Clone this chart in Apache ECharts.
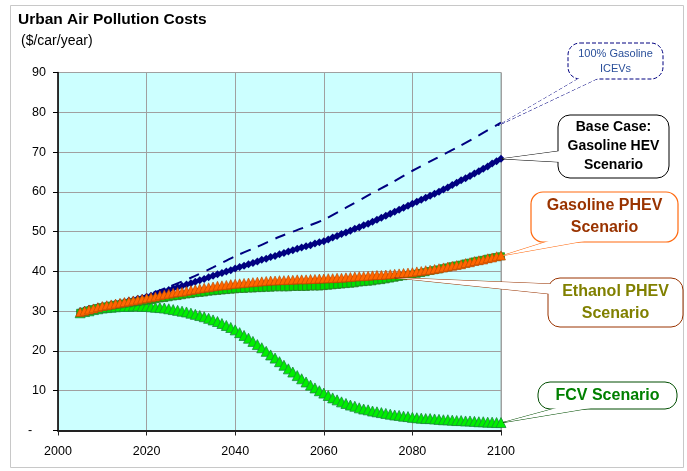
<!DOCTYPE html>
<html>
<head>
<meta charset="utf-8">
<script src="https://cdn.jsdelivr.net/npm/echarts@6/dist/echarts.min.js"></script>
<style>
  html, body { margin: 0; padding: 0; background: #fff; }
  #chart { width: 687px; height: 471px; }
</style>
</head>
<body>
<div id="chart"></div>
<script>
// years with one point each (2005 - 2100)
const years = []
for (let y = 2005; y <= 2100; y++) years.push(y)

// base case: gasoline HEV scenario
const baseHev = [
  30.0, 30.3, 30.6, 30.8, 31.1, 31.3, 31.5, 31.7, 31.9, 32.1,
  32.3, 32.6, 32.8, 33.1, 33.3, 33.6, 33.9, 34.3, 34.6, 35.0,
  35.3, 35.7, 36.0, 36.3, 36.7, 37.0, 37.4, 37.8, 38.1, 38.5,
  38.9, 39.3, 39.6, 40.0, 40.3, 40.7, 41.1, 41.4, 41.8, 42.1,
  42.5, 42.9, 43.2, 43.6, 43.9, 44.3, 44.6, 45.0, 45.3, 45.7,
  46.0, 46.3, 46.6, 47.0, 47.3, 47.6, 48.0, 48.5, 48.9, 49.4,
  49.8, 50.2, 50.7, 51.1, 51.6, 52.0, 52.5, 53.0, 53.5, 54.0,
  54.5, 55.0, 55.5, 56.0, 56.5, 57.0, 57.5, 58.0, 58.5, 59.0,
  59.5, 60.0, 60.6, 61.1, 61.7, 62.3, 62.9, 63.4, 64.0, 64.6,
  65.2, 65.8, 66.4, 67.1, 67.7, 68.3
]

const gasolinePhev = [
  29.8, 30.1, 30.4, 30.7, 31.0, 31.3, 31.5, 31.7, 31.9, 32.1,
  32.3, 32.5, 32.7, 32.9, 33.1, 33.3, 33.5, 33.7, 34.0, 34.2,
  34.4, 34.6, 34.8, 34.9, 35.1, 35.3, 35.5, 35.7, 35.9, 36.0,
  36.2, 36.4, 36.5, 36.6, 36.8, 36.9, 37.0, 37.1, 37.2, 37.3,
  37.4, 37.5, 37.6, 37.7, 37.7, 37.8, 37.8, 37.9, 37.9, 38.0,
  38.0, 38.0, 38.1, 38.1, 38.2, 38.2, 38.3, 38.3, 38.4, 38.4,
  38.5, 38.6, 38.7, 38.8, 38.8, 38.9, 39.0, 39.1, 39.1, 39.2,
  39.3, 39.4, 39.5, 39.6, 39.7, 39.8, 40.0, 40.1, 40.3, 40.4,
  40.6, 40.8, 41.0, 41.2, 41.4, 41.6, 41.8, 42.1, 42.3, 42.6,
  42.8, 43.0, 43.3, 43.5, 43.8, 44.0
]

const ethanolPhev = [
  29.6, 29.9, 30.2, 30.5, 30.8, 31.0, 31.2, 31.4, 31.6, 31.7,
  31.9, 32.0, 32.2, 32.3, 32.5, 32.6, 32.8, 33.0, 33.2, 33.3,
  33.5, 33.7, 33.8, 34.0, 34.2, 34.3, 34.5, 34.6, 34.7, 34.9,
  35.0, 35.1, 35.2, 35.3, 35.4, 35.5, 35.6, 35.6, 35.7, 35.7,
  35.8, 35.8, 35.9, 35.9, 36.0, 36.0, 36.0, 36.0, 36.1, 36.1,
  36.1, 36.1, 36.2, 36.2, 36.2, 36.3, 36.4, 36.5, 36.6, 36.7,
  36.8, 36.9, 37.0, 37.2, 37.3, 37.4, 37.5, 37.7, 37.8, 38.0,
  38.2, 38.4, 38.6, 38.8, 39.0, 39.2, 39.4, 39.6, 39.8, 40.1,
  40.3, 40.5, 40.8, 41.0, 41.3, 41.5, 41.7, 42.0, 42.2, 42.5,
  42.7, 42.9, 43.2, 43.4, 43.6, 43.8
]

const fcv = [
  29.6, 29.9, 30.1, 30.4, 30.6, 30.8, 30.9, 31.0, 31.1, 31.2,
  31.2, 31.2, 31.3, 31.3, 31.2, 31.2, 31.1, 31.0, 30.9, 30.8,
  30.6, 30.4, 30.2, 30.0, 29.8, 29.5, 29.2, 28.9, 28.6, 28.2,
  27.8, 27.4, 26.9, 26.4, 25.9, 25.3, 24.6, 23.9, 23.2, 22.4,
  21.6, 20.8, 19.9, 19.0, 18.2, 17.3, 16.4, 15.5, 14.7, 13.8,
  13.0, 12.2, 11.4, 10.7, 10.0, 9.4, 8.8, 8.2, 7.7, 7.2,
  6.8, 6.4, 6.1, 5.7, 5.4, 5.2, 4.9, 4.7, 4.5, 4.3,
  4.1, 3.9, 3.8, 3.6, 3.5, 3.3, 3.2, 3.1, 3.0, 3.0,
  2.9, 2.8, 2.7, 2.7, 2.6, 2.5, 2.5, 2.4, 2.4, 2.3,
  2.2, 2.2, 2.1, 2.1, 2.0, 2.0
]

// 100% gasoline ICEVs (dashed line, no markers)
const iceYears = [2005, 2010, 2015, 2020, 2025, 2030, 2035, 2040, 2045, 2050,
  2055, 2060, 2065, 2070, 2075, 2080, 2085, 2090, 2095, 2100]
const iceValues = [30.0, 31.3, 32.4, 34.0, 36.1, 38.4, 41.0, 43.8, 46.2, 48.7,
  50.8, 53.0, 56.0, 59.1, 62.1, 65.3, 68.2, 71.1, 74.2, 77.4]

const xTicks = [2000, 2020, 2040, 2060, 2080, 2100]
const yTicks = [0, 10, 20, 30, 40, 50, 60, 70, 80, 90]

const pairs = (xs, vs) => xs.map((x, i) => [x, vs[i]])

const chart = echarts.init(document.getElementById('chart'))

const option = {
  animation: false,
  backgroundColor: '#fff',
  textStyle: { fontFamily: 'Liberation Sans, Arial, sans-serif' },
  title: [
    {
      text: 'Urban Air Pollution Costs',
      left: 13, top: 7,
      textStyle: { fontSize: 15.5, fontWeight: 'bold', color: '#000', fontFamily: 'Liberation Sans' }
    },
    {
      text: '($/car/year)',
      left: 16, top: 29,
      textStyle: { fontSize: 14, fontWeight: 'normal', color: '#000', fontFamily: 'Liberation Sans' }
    }
  ],
  grid: {
    left: 58, right: 186, top: 72.5, bottom: 40.5,
    show: true, backgroundColor: '#ccffff', borderColor: '#a0a0a0', borderWidth: 1
  },
  xAxis: {
    type: 'value',
    min: xTicks[0], max: xTicks[xTicks.length - 1], interval: 20,
    axisLine: { lineStyle: { color: '#222', width: 2 } },
    axisTick: { show: true, length: 5, lineStyle: { color: '#222' } },
    axisLabel: {
      color: '#000', fontSize: 12.5, margin: 15, fontFamily: 'Liberation Sans',
      formatter: v => String(v)
    },
    splitLine: { lineStyle: { color: '#a0a0a0', width: 1 } }
  },
  yAxis: {
    type: 'value',
    min: yTicks[0], max: yTicks[yTicks.length - 1], interval: 10,
    axisLine: { show: true, lineStyle: { color: '#000', width: 1.5 } },
    axisTick: { show: true, length: 5, lineStyle: { color: '#000' } },
    axisLabel: {
      color: '#000', fontSize: 12.5, margin: 12, fontFamily: 'Liberation Sans',
      formatter: v => (v === 0 ? '-    ' : String(v))
    },
    splitLine: { lineStyle: { color: '#a0a0a0', width: 1 } }
  },
  series: [
    {
      name: '100% Gasoline ICEVs', type: 'line',
      data: pairs(iceYears, iceValues),
      showSymbol: false, smooth: 0.3,
      lineStyle: { color: '#000080', width: 2, type: [11, 8] }, z: 2
    },
    {
      name: 'Base Case', type: 'line',
      data: pairs(years, baseHev),
      symbol: 'diamond', symbolSize: 8,
      itemStyle: { color: '#000080' },
      lineStyle: { color: '#000080', width: 1 }, z: 3
    },
    {
      name: 'FCV', type: 'line',
      data: pairs(years, fcv),
      symbol: 'triangle', symbolSize: 10,
      itemStyle: { color: '#00ee00', borderColor: '#1a8a3a', borderWidth: 0.8 },
      lineStyle: { color: '#1a8a3a', width: 1 }, z: 4
    },
    {
      name: 'Ethanol PHEV', type: 'line',
      data: pairs(years, ethanolPhev),
      symbol: 'rect', symbolSize: 7,
      itemStyle: { color: '#00dd00', borderColor: '#2a7a2a', borderWidth: 0.8 },
      lineStyle: { color: '#2a7a2a', width: 1 }, z: 5
    },
    {
      name: 'Gasoline PHEV', type: 'line',
      data: pairs(years, gasolinePhev),
      symbol: 'triangle', symbolSize: 9,
      itemStyle: { color: '#ff6600', borderColor: '#b34400', borderWidth: 0.6 },
      lineStyle: { color: '#b34400', width: 1 }, z: 6
    }
  ]
}

chart.setOption(option)

// callout boxes with pointers to the series
const lastIdx = years.length - 1
const toPx = (x, y) => chart.convertToPixel({ gridIndex: 0 }, [x, y])

function callout(box, tip, base1, base2, style) {
  return [
    {
      type: 'polygon', z: 100,
      shape: { points: [base1, tip, base2] },
      style: { fill: '#fff', stroke: style.stroke, lineWidth: style.lw || 1, lineDash: style.dash || null }
    },
    {
      type: 'rect', z: 101,
      shape: { x: box[0], y: box[1], width: box[2], height: box[3], r: 12 },
      style: { fill: '#fff', stroke: style.stroke, lineWidth: style.lw || 1, lineDash: style.dash || null }
    },
    {
      type: 'polygon', z: 102,
      shape: { points: [base1, tip, base2] },
      style: { fill: '#fff', stroke: null }
    },
    {
      type: 'text', z: 103,
      x: box[0] + box[2] / 2, y: box[1] + box[3] / 2,
      style: {
        text: style.text, fill: style.color, fontSize: style.size,
        fontWeight: style.weight || 'bold', fontFamily: 'Liberation Sans',
        align: 'center', verticalAlign: 'middle', lineHeight: style.lh
      }
    }
  ]
}

const iceTip = toPx(iceYears[iceYears.length - 1], iceValues[iceValues.length - 1])
const baseTip = toPx(years[lastIdx], baseHev[lastIdx])
const gasTip = toPx(years[lastIdx], gasolinePhev[lastIdx])
const ethTip = toPx(years[71], ethanolPhev[71])
const fcvTip = toPx(years[lastIdx], fcv[lastIdx])

const elements = [].concat(
  callout([568, 43, 95, 36], [iceTip[0] - 3, iceTip[1] + 3], [583, 76], [603, 76],
    { stroke: '#000080', dash: [4, 2], lw: 1, text: '100% Gasoline\nICEVs', color: '#2a4f9a', size: 11, weight: 'normal', lh: 15 }),
  callout([558, 115, 111, 63], [baseTip[0] + 1, baseTip[1]], [560, 151], [560, 162],
    { stroke: '#000', lw: 1, text: 'Base Case:\nGasoline HEV\nScenario', color: '#000', size: 14, lh: 19 }),
  callout([531, 192, 147, 50], [gasTip[0] + 2, gasTip[1]], [552, 240], [590, 240],
    { stroke: '#ff6a10', lw: 1.2, text: 'Gasoline PHEV\nScenario', color: '#993300', size: 16, lh: 22 }),
  callout([548, 278, 135, 49], [ethTip[0], ethTip[1]], [551, 284], [551, 294],
    { stroke: '#993300', lw: 1, text: 'Ethanol PHEV\nScenario', color: '#808000', size: 16, lh: 22 }),
  callout([538, 382, 139, 27], [fcvTip[0] + 2, fcvTip[1]], [560, 407], [597, 407],
    { stroke: '#004d00', lw: 1, text: 'FCV Scenario', color: '#008000', size: 16, lh: 20 })
)

// light frame around the whole chart
elements.push({
  type: 'rect', z: 0, silent: true,
  shape: { x: 10.5, y: 5.5, width: 673, height: 462 },
  style: { fill: null, stroke: '#c8c8c8', lineWidth: 1 }
})

chart.setOption({ graphic: { elements } })
</script>
</body>
</html>
